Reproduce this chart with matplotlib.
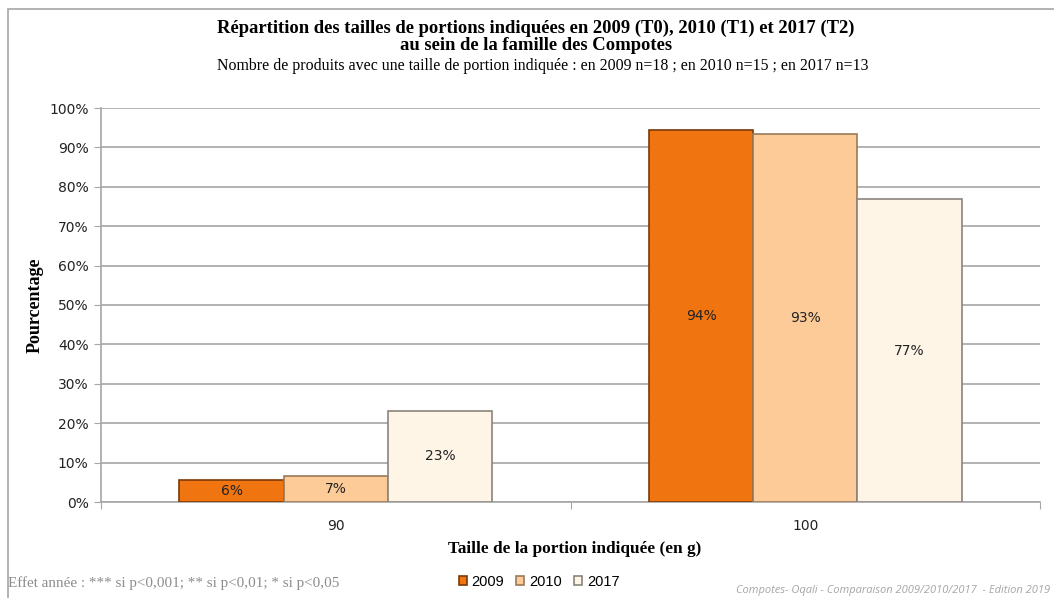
import numpy as np
import matplotlib.pyplot as plt
from matplotlib.patches import Rectangle

# ---------- DATA ----------
categories = ["90", "100"]
years = ["2009", "2010", "2017"]
pct_2009 = [5.6, 94.4]
pct_2010 = [6.7, 93.3]
pct_2017 = [23.1, 76.9]
labels_2009 = ["6%", "94%"]
labels_2010 = ["7%", "93%"]
labels_2017 = ["23%", "77%"]
yticks = [0, 10, 20, 30, 40, 50, 60, 70, 80, 90, 100]

face = ["#F07410", "#FDCB98", "#FEF5E7"]
edge = ["#7A3A08", "#9A7A5A", "#8A847C"]
serif = "Liberation Serif"
sans = "DejaVu Sans"
grey = "#A6A6A6"

W, H = 1054, 598
fig = plt.figure(figsize=(W / 100, H / 100), dpi=100)
ax = fig.add_axes([101 / W, 1 - 502 / H, (1040 - 101) / W, (502 - 108) / H])

# outer frame (cut at right/bottom like the reference)
fig.patches.append(Rectangle((8 / W, -0.05), 1.2, 1 - 9 / H + 0.05, transform=fig.transFigure,
                             fill=False, edgecolor=grey, linewidth=1.2))

x = np.arange(len(categories))
bw = 0.222
series = [pct_2009, pct_2010, pct_2017]
lbls = [labels_2009, labels_2010, labels_2017]
for i, (vals, lab) in enumerate(zip(series, lbls)):
    xs = x + (i - 1) * bw
    bars = ax.bar(xs, vals, width=bw, color=face[i], edgecolor=edge[i], linewidth=1.2,
                  label=years[i], zorder=3)
    for b, t in zip(bars, lab):
        ax.text(b.get_x() + b.get_width() / 2, b.get_height() / 2, t, ha="center", va="center",
                fontsize=10, family=sans, color="#222222", zorder=4)

ax.set_xlim(-0.5, 1.5)
ax.set_ylim(0, 100)
ax.set_yticks(yticks)
ax.set_yticklabels([f"{v}%" for v in yticks], family=sans, fontsize=10, color="#222222")
ax.yaxis.grid(True, color=grey, linewidth=1.2, zorder=0)
ax.set_axisbelow(True)

# category ticks between groups, labels centred
ax.set_xticks([-0.5, 0.5, 1.5])
ax.set_xticklabels([])
ax.set_xticks(x, minor=True)
ax.set_xticklabels(categories, minor=True, family=sans, fontsize=10, color="#222222")
ax.tick_params(axis="x", which="minor", length=0, pad=12)
ax.tick_params(axis="x", which="major", length=5, color=grey, direction="out")
ax.tick_params(axis="y", length=5, color=grey, pad=4)

for s in ["top", "right"]:
    ax.spines[s].set_visible(False)
for s in ["left", "bottom"]:
    ax.spines[s].set_color(grey)
    ax.spines[s].set_linewidth(1.2)

ax.set_ylabel("Pourcentage", family=serif, fontsize=13, fontweight="bold", va="center")
ax.yaxis.set_label_coords((35 - 101) / (1040 - 101), 0.5)
ax.set_xlabel("Taille de la portion indiquée (en g)", family=serif, fontsize=12.4,
              fontweight="bold", va="center")
ax.xaxis.set_label_coords((575 - 101) / (1040 - 101), -(549 - 502) / (502 - 108))

fig.text(536 / W, 1 - 28 / H,
         "Répartition des tailles de portions indiquées en 2009 (T0), 2010 (T1) et 2017 (T2)",
         ha="center", va="center", family=serif, fontsize=13.4, fontweight="bold")
fig.text(536 / W, 1 - 46 / H, "au sein de la famille des Compotes",
         ha="center", va="center", family=serif, fontsize=13.4, fontweight="bold")
fig.text(543 / W, 1 - 66 / H,
         "Nombre de produits avec une taille de portion indiquée : en 2009 n=18 ; en 2010 n=15 ; en 2017 n=13",
         ha="center", va="center", family=serif, fontsize=11.4)

fig.text(8 / W, 1 - 583 / H, "Effet année : *** si p<0,001; ** si p<0,01; * si p<0,05",
         ha="left", va="center", family=serif, fontsize=10.9, color="#8C8C8C")
fig.text(1050 / W, 1 - 591 / H, "Compotes- Oqali - Comparaison 2009/2010/2017  - Edition 2019",
         ha="right", va="center", family="Open Sans", fontsize=8.0, style="italic", color=grey)

fig.legend(loc="center", bbox_to_anchor=(539 / W, 1 - 582 / H), ncol=3, frameon=False,
           prop={"family": "Liberation Sans", "size": 10.5}, handlelength=0.55, handleheight=0.55,
           handletextpad=0.35, columnspacing=0.8)

fig.savefig("out.png", dpi=100)
